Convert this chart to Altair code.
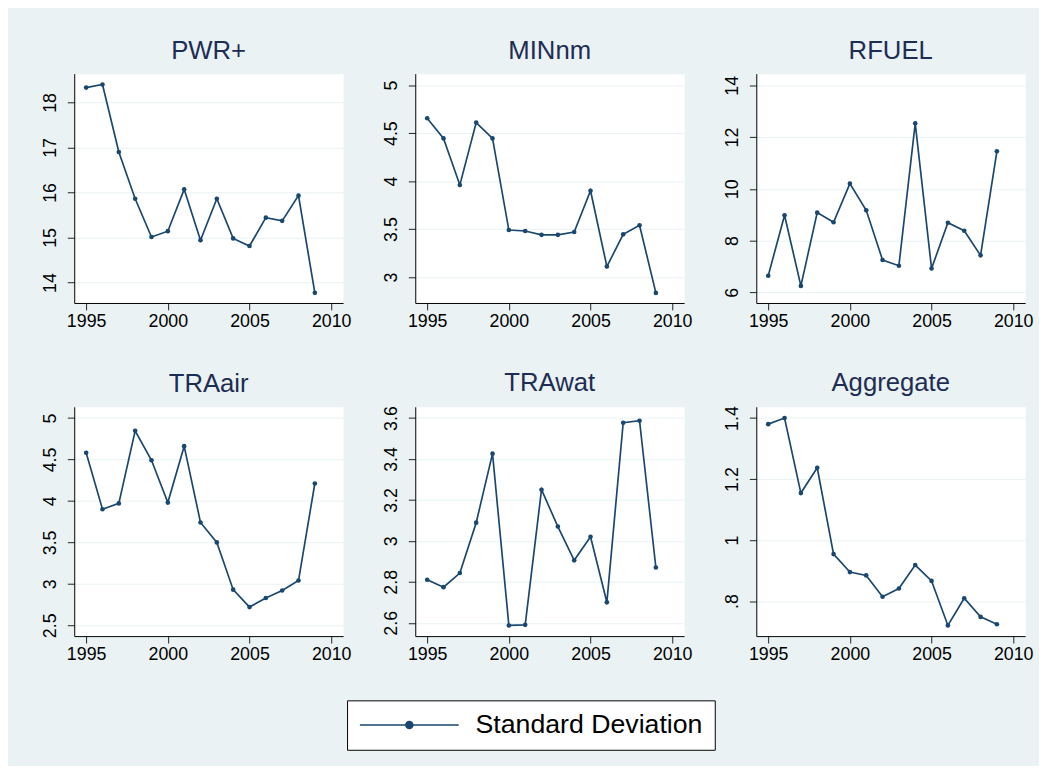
import altair as alt
import pandas as pd

years = list(range(1995, 2010))
panel_names = ["PWR+", "MINnm", "RFUEL", "TRAair", "TRAwat", "Aggregate"]
series_name = "Standard Deviation"

pwr = [18.33, 18.40, 16.90, 15.86, 15.01, 15.14, 16.07, 14.94, 15.86, 14.98, 14.81, 15.44, 15.37, 15.93, 13.77]
minnm = [4.655, 4.445, 3.96, 4.61, 4.445, 3.49, 3.48, 3.44, 3.44, 3.47, 3.90, 3.11, 3.445, 3.54, 2.835]
rfuel = [6.64, 8.98, 6.25, 9.08, 8.71, 10.2, 9.17, 7.25, 7.03, 12.53, 6.92, 8.69, 8.38, 7.43, 11.45]
traair = [4.58, 3.90, 3.97, 4.845, 4.49, 3.98, 4.66, 3.74, 3.50, 2.93, 2.72, 2.83, 2.92, 3.04, 4.21]
trawat = [2.81, 2.774, 2.843, 3.089, 3.426, 2.587, 2.59, 3.25, 3.07, 2.905, 3.02, 2.70, 3.577, 3.587, 2.87]
aggregate = [1.38, 1.40, 1.154, 1.237, 0.954, 0.895, 0.884, 0.814, 0.841, 0.918, 0.866, 0.72, 0.809, 0.748, 0.724]

values_by_panel = [pwr, minnm, rfuel, traair, trawat, aggregate]

x_ticks = [1995, 2000, 2005, 2010]
x_domain = [1994.27, 2010.73]

y_ticks = [
    [14, 15, 16, 17, 18],
    [3, 3.5, 4, 4.5, 5],
    [6, 8, 10, 12, 14],
    [2.5, 3, 3.5, 4, 4.5, 5],
    [2.6, 2.8, 3, 3.2, 3.4, 3.6],
    [0.8, 1, 1.2, 1.4],
]
y_domains = [
    [13.545, 18.64],
    [2.73, 5.12],
    [5.59, 14.45],
    [2.37, 5.135],
    [2.535, 3.655],
    [0.685, 1.437],
]

LINE_COLOR = "#1a476f"
FONT = "Liberation Sans"

legend_path = "M-1,0L1,0M0.07,0A0.07,0.07 0 1 1 -0.07,0A0.07,0.07 0 1 1 0.07,0Z"

legend = alt.Legend(
    title=None,
    orient="none",
    legendX=276,
    legendY=634,
    symbolType=legend_path,
    symbolSize=10000,
    symbolStrokeWidth=1.6,
    symbolStrokeColor=LINE_COLOR,
    symbolFillColor=LINE_COLOR,
    symbolOpacity=1,
    clipHeight=26,
    labelFontSize=27,
    labelFont=FONT,
    labelColor="black",
    labelOffset=16,
    labelLimit=500,
    strokeColor="black",
    fillColor="white",
    padding=12,
    labelExpr="datum.label + '\u00a0'",
)


def make_panel(i):
    name = panel_names[i]
    df = pd.DataFrame({
        "year": years,
        "value": values_by_panel[i],
        "series": [series_name] * len(years),
    })
    return alt.Chart(df, title=alt.Title(name)).mark_line(
        strokeWidth=1.7,
        point=alt.OverlayMarkDef(filled=True, size=22, opacity=1),
    ).encode(
        x=alt.X(
            "year:Q",
            scale=alt.Scale(domain=x_domain, nice=False, zero=False),
            axis=alt.Axis(values=x_ticks, format="d", title=None, grid=False),
        ),
        y=alt.Y(
            "value:Q",
            scale=alt.Scale(domain=y_domains[i], nice=False, zero=False),
            axis=alt.Axis(
                values=y_ticks[i],
                title=None,
                format="~g",
                labelExpr="substring(datum.label, 0, 2) == '0.' ? substring(datum.label, 1) : datum.label",
            ),
        ),
        color=alt.Color("series:N", scale=alt.Scale(range=[LINE_COLOR]), legend=legend),
    ).properties(width=272, height=232)


panels = [make_panel(i) for i in range(6)]

chart = alt.concat(
    *panels, columns=3, spacing={"row": 105, "column": 73}, bounds="flush"
).properties(
    background="#EAF2F3",
    padding={"left": 33, "top": 25, "right": 5, "bottom": 11},
).configure(
    font=FONT,
).configure_view(
    fill="white", stroke="transparent"
).configure_axis(
    domainColor="black",
    domainWidth=1,
    tickColor="#222222",
    tickSize=7,
    labelFontSize=18,
    labelColor="black",
    labelFont=FONT,
    gridColor="#EAF2F3",
    gridWidth=1,
).configure_axisY(
    labelAngle=270,
    labelAlign="center",
    labelBaseline="alphabetic",
    labelPadding=12,
).configure_axisX(
    labelPadding=3,
).configure_title(
    fontSize=26,
    color="#1e2d53",
    font=FONT,
    fontWeight="normal",
    offset=10,
    baseline="alphabetic",
)

chart.save("out.html", embed_options={"renderer": "svg", "actions": False})
